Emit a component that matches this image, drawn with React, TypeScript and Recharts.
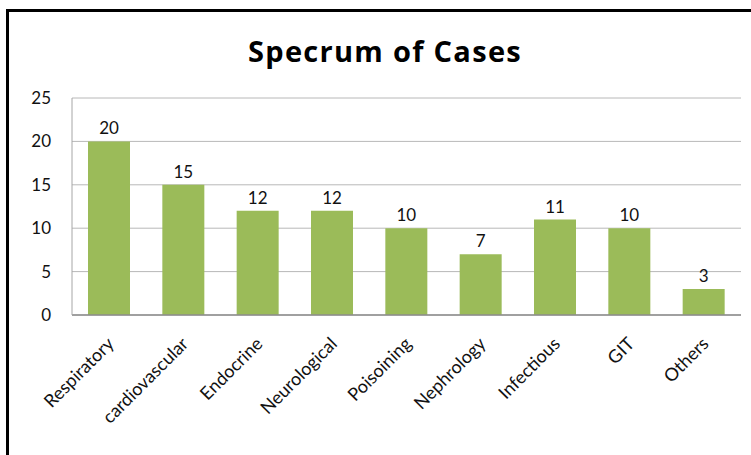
import { Bar, BarChart, CartesianGrid, LabelList, XAxis, YAxis } from 'recharts';

const categories = [
  'Respiratory',
  'cardiovascular',
  'Endocrine',
  'Neurological',
  'Poisoining',
  'Nephrology',
  'Infectious',
  'GIT',
  'Others',
];
const cases = [20, 15, 12, 12, 10, 7, 11, 10, 3];
const yTicks = [0, 5, 10, 15, 20, 25];

const data = categories.map((name, i) => ({ name, cases: cases[i] }));

const FONT = 'Lato, "Open Sans", sans-serif';

function CategoryTick({ x, y, payload }: { x?: number; y?: number; payload?: { value: string } }) {
  const tx = (x ?? 0) + 6;
  const ty = (y ?? 0) + 22;
  return (
    <text
      x={tx}
      y={ty}
      transform={`rotate(-45, ${tx}, ${ty})`}
      textAnchor="end"
      fontSize={18}
      fontFamily={FONT}
      fill="#111"
    >
      {payload?.value}
    </text>
  );
}

export default function App() {
  return (
    <div
      style={{
        position: 'fixed',
        left: 0,
        top: 0,
        width: 751,
        height: 455,
        overflow: 'hidden',
        background: '#fff',
      }}
    >
      <div
        style={{
          position: 'absolute',
          left: 6,
          top: 9,
          width: 800,
          height: 500,
          borderTop: '3px solid #000',
          borderLeft: '3px solid #000',
        }}
      />
      <div
        style={{
          position: 'absolute',
          left: 0,
          top: 31,
          width: 770,
          textAlign: 'center',
          fontFamily: '"Open Sans", sans-serif',
          fontWeight: 700,
          fontSize: 29,
          letterSpacing: 1.3,
          lineHeight: 'normal',
          color: '#000',
        }}
      >
        Specrum of Cases
      </div>
      <div style={{ position: 'absolute', left: 0, top: 0 }}>
        <BarChart
          width={751}
          height={455}
          data={data}
          margin={{ top: 98, right: 10, bottom: 10, left: 32 }}
        >
          <CartesianGrid vertical={false} stroke="#b8b8b8" />
          <XAxis
            dataKey="name"
            interval={0}
            height={130}
            tickLine={false}
            axisLine={{ stroke: '#8c8c8c', strokeWidth: 1.5 }}
            tick={<CategoryTick />}
          />
          <YAxis
            width={40}
            domain={[0, 25]}
            ticks={yTicks}
            tickLine={false}
            tickSize={0}
            tickMargin={21}
            axisLine={{ stroke: '#a6a6a6' }}
            tick={{ fontSize: 17, fontFamily: FONT, fill: '#111' }}
          />
          <Bar dataKey="cases" fill="#9BBB59" barSize={42} isAnimationActive={false}>
            <LabelList
              dataKey="cases"
              position="top"
              offset={7}
              style={{ fontSize: 17, fontFamily: FONT, fill: '#111' }}
            />
          </Bar>
        </BarChart>
      </div>
    </div>
  );
}
